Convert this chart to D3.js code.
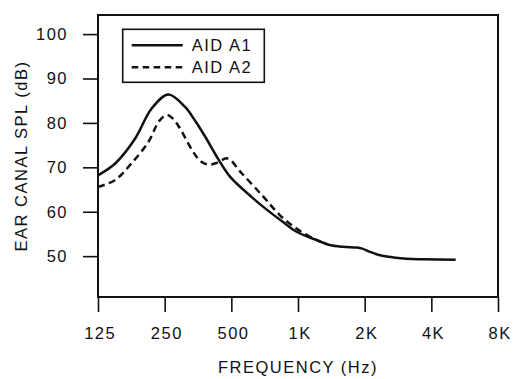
<!DOCTYPE html>
<html>
<head>
<meta charset="utf-8">
<script src="https://cdn.jsdelivr.net/npm/d3@7"></script>
<style>
  body { margin: 0; background: #fff; }
  text { font-family: "Liberation Sans", Arial, sans-serif; font-size: 16.5px; letter-spacing: 1.5px; fill: #111; }
</style>
</head>
<body>
<div id="chart"></div>
<script>
// tick values / labels
var freqTicks = [125, 250, 500, 1000, 2000, 4000, 8000];
var freqLabels = ["125", "250", "500", "1K", "2K", "4K", "8K"];
var splTicks = [50, 60, 70, 80, 90, 100];

// AID A1 (solid)
var a1Freq = [125, 149, 184, 218, 260, 309, 342, 380, 437, 493, 618, 697, 850, 985, 1200, 1393, 1600, 1840, 1950, 2100, 2347, 2700, 3100, 3680, 5150];
var a1Spl  = [68.2, 70.8, 76.5, 83.2, 86.4, 83.6, 80.6, 77.0, 71.8, 67.9, 63.3, 61.1, 57.8, 55.5, 53.7, 52.5, 52.1, 51.95, 51.7, 51.0, 50.2, 49.7, 49.4, 49.3, 49.2];

// AID A2 (dashed)
var a2Freq = [125, 149, 177, 211, 236, 256, 272, 292, 336, 365, 394, 430, 480, 556, 697, 829, 985, 1171, 1260];
var a2Spl  = [65.6, 67.1, 70.9, 75.7, 80.4, 81.8, 81.0, 78.9, 73.5, 71.3, 70.6, 71.0, 72.0, 68.7, 63.4, 59.2, 56.2, 54.0, 53.3];

var legendNames = ["AID A1", "AID A2"];

var margin = {top: 15, right: 15, bottom: 82, left: 98},
    width = 513 - margin.left - margin.right,
    height = 379 - margin.top - margin.bottom;

var svg = d3.select("#chart").append("svg")
    .attr("width", 513)
    .attr("height", 379)
  .append("g")
    .attr("transform", "translate(" + margin.left + "," + margin.top + ")");

var x = d3.scaleLog().domain([125, 8000]).range([0, width]);
var y = d3.scaleLinear().domain([40.8, 104.3]).range([height, 0]);

var xAxis = d3.axisBottom(x)
    .tickValues(freqTicks)
    .tickFormat(function(d, i) { return freqLabels[i]; })
    .tickSizeInner(15)
    .tickSizeOuter(0)
    .tickPadding(15);

var yAxis = d3.axisLeft(y)
    .tickValues(splTicks)
    .tickSizeInner(15)
    .tickSizeOuter(0)
    .tickPadding(15);

var gx = svg.append("g")
    .attr("transform", "translate(0," + height + ")")
    .call(xAxis);
var gy = svg.append("g").call(yAxis);

[gx, gy].forEach(function(g) {
  g.select(".domain").remove();
  g.selectAll(".tick line").attr("stroke", "#111").attr("stroke-width", 1.6);
  g.selectAll(".tick text").attr("font-size", null).attr("font-family", null);
});
gx.selectAll(".tick text").attr("dx", "0.1em");

// frame
svg.append("rect")
    .attr("x", 0).attr("y", 0)
    .attr("width", width).attr("height", height)
    .attr("fill", "none")
    .attr("stroke", "#111")
    .attr("stroke-width", 2);

var line = d3.line()
    .x(function(d) { return x(d[0]); })
    .y(function(d) { return y(d[1]); })
    .curve(d3.curveCatmullRom.alpha(0.5));

svg.append("path")
    .datum(d3.zip(a1Freq, a1Spl))
    .attr("fill", "none")
    .attr("stroke", "#111")
    .attr("stroke-width", 2.5)
    .attr("d", line);

svg.append("path")
    .datum(d3.zip(a2Freq, a2Spl))
    .attr("fill", "none")
    .attr("stroke", "#111")
    .attr("stroke-width", 2.5)
    .attr("stroke-dasharray", "7,4.5")
    .attr("d", line);

// legend
var leg = svg.append("g").attr("transform", "translate(" + (122.7 - margin.left) + "," + (29.3 - margin.top) + ")");
leg.append("rect")
    .attr("width", 141.6).attr("height", 53)
    .attr("fill", "#fff")
    .attr("stroke", "#111")
    .attr("stroke-width", 1.6);
leg.selectAll(".lg")
    .data(legendNames)
  .enter().append("line")
    .attr("x1", 9).attr("x2", 60)
    .attr("y1", function(d, i) { return 16 + i * 22; })
    .attr("y2", function(d, i) { return 16 + i * 22; })
    .attr("stroke", "#111")
    .attr("stroke-width", 2.5)
    .attr("stroke-dasharray", function(d, i) { return i ? "6.5,4.5" : null; });
leg.selectAll(".lt")
    .data(legendNames)
  .enter().append("text")
    .attr("x", 69)
    .attr("y", function(d, i) { return 16 + i * 22; })
    .attr("dy", "0.36em")
    .text(function(d) { return d; });

// axis titles
svg.append("text")
    .attr("x", width / 2)
    .attr("y", 373 - margin.top)
    .attr("text-anchor", "middle")
    .text("FREQUENCY (Hz)");

svg.append("text")
    .attr("transform", "translate(" + (27 - margin.left) + "," + (156 - margin.top) + ") rotate(-90)")
    .attr("text-anchor", "middle")
    .text("EAR CANAL SPL (dB)");
</script>
</body>
</html>
